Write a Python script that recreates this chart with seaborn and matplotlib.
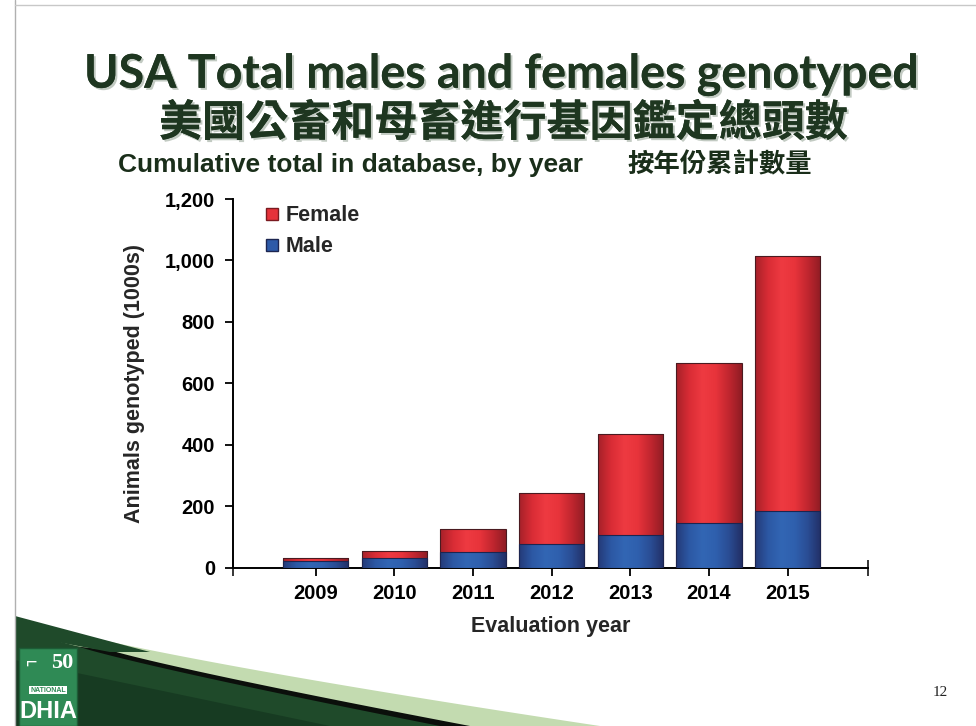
import numpy as np
import pandas as pd
import matplotlib
matplotlib.use("Agg")
import matplotlib.pyplot as plt
import seaborn as sns
from matplotlib.colors import LinearSegmentedColormap
from matplotlib.patches import Rectangle, Polygon
from matplotlib.lines import Line2D
from matplotlib.ticker import FuncFormatter
import matplotlib.patheffects as pe

# data (thousands of animals, cumulative)
years = ['2009', '2010', '2011', '2012', '2013', '2014', '2015']
male = [21, 31, 51, 75, 105, 145, 183]
female = [10, 23, 76, 169, 330, 521, 832]
y_ticks = [0, 200, 400, 600, 800, 1000, 1200]

sns.set_style("white")
plt.rcParams['font.family'] = ['Liberation Sans', 'Noto Sans CJK TC', 'DejaVu Sans']

df = pd.DataFrame({'year': years, 'male': male, 'female': female})
df['total'] = df['male'] + df['female']

W, H = 976, 726
fig = plt.figure(figsize=(W / 100, H / 100), dpi=100)

def fx(x):
    return x / W

def fy(y):
    return 1 - y / H

ax = fig.add_axes([fx(233), fy(567.5), fx(868 - 233), (567.5 - 199) / H])

red = '#e5323a'
blue = '#2d5aa8'
sns.barplot(data=df, x='year', y='total', color=red, width=0.83, ax=ax,
            saturation=1, edgecolor='none')
sns.barplot(data=df, x='year', y='male', color=blue, width=0.83, ax=ax,
            saturation=1, edgecolor='none')

# cylinder-like shading on each bar
red_cmap = LinearSegmentedColormap.from_list('r', ['#a52129', '#d92c35', '#ee3a41', '#e8343b', '#c1262f', '#8f1c24'])
blue_cmap = LinearSegmentedColormap.from_list('b', ['#243a78', '#2c58a4', '#3266b4', '#2f60ae', '#2a4d94', '#222f66'])
grad = np.linspace(0, 1, 256).reshape(1, -1)
n = len(years)
for i, p in enumerate(list(ax.patches)):
    x0, y0, w, h = p.get_x(), p.get_y(), p.get_width(), p.get_height()
    cmap = red_cmap if i < n else blue_cmap
    im = ax.imshow(grad, extent=[x0, x0 + w, y0, y0 + h], cmap=cmap,
                   aspect='auto', zorder=2 + (i >= n), origin='lower')
    im.set_clip_path(p)
    ax.add_patch(Rectangle((x0, y0), w, h, fill=False, edgecolor='#4a1a20' if i < n else '#1c2550',
                           lw=0.8, zorder=2.5 + (i >= n)))

ax.set_xlim(-1.05, 7.02)
ax.set_ylim(0, 1200)
ax.set_yticks(y_ticks)
ax.yaxis.set_major_formatter(FuncFormatter(lambda v, pos: f'{int(v):,}'))
ax.set_xticks(range(n))
ax.set_xticklabels(years)
ax.set_xticks([-1.05, 7.02], minor=True)
ax.tick_params(axis='both', which='both', bottom=True, left=True)
ax.tick_params(axis='both', which='major', direction='out', length=6, width=1.3,
               colors='black', labelsize=14.5)
ax.tick_params(axis='x', which='minor', direction='inout', length=12, width=1.3)
for lbl in ax.get_xticklabels() + ax.get_yticklabels():
    lbl.set_fontweight('bold')
ax.tick_params(axis='x', pad=6)
ax.tick_params(axis='y', pad=7)

sns.despine(ax=ax)
for s in ['left', 'bottom']:
    ax.spines[s].set_linewidth(1.4)
    ax.spines[s].set_color('black')

ax.set_xlabel('Evaluation year', fontsize=15.5, fontweight='bold', labelpad=9)
ax.set_ylabel('Animals genotyped (1000s)', fontsize=15.5, fontweight='bold', labelpad=14)

handles = [Line2D([], [], marker='s', ls='none', markersize=9, markerfacecolor=red,
                  markeredgecolor='#7a1a20', label='Female'),
           Line2D([], [], marker='s', ls='none', markersize=9, markerfacecolor=blue,
                  markeredgecolor='#1c2550', label='Male')]
leg = ax.legend(handles=handles, loc='upper left', bbox_to_anchor=(0.011, 1.035), frameon=False,
                handletextpad=0.0, handlelength=1.2, labelspacing=0.45,
                prop={'weight': 'bold', 'size': 15.5})

# titles
shadow = [pe.withSimplePatchShadow(offset=(1.5, -1.5), shadow_rgbFace='#9aa89a', alpha=0.6), pe.Normal()]
fig.text(fx(501), fy(74), 'USA Total males and females genotyped', ha='center', va='center',
         fontsize=33.5, fontweight='bold', color='#1e3620', family=['Lato', 'DejaVu Sans'],
         path_effects=shadow)
fig.text(fx(503), fy(123), '美國公畜和母畜進行基因鑑定總頭數', ha='center', va='center',
         fontsize=31, fontweight='bold', color='#1e3620', family=['Noto Sans CJK TC'],
         path_effects=shadow)
fig.text(fx(118), fy(165), 'Cumulative total in database, by year', ha='left', va='center',
         fontsize=19, fontweight='bold', color='#1a2e1a')
fig.text(fx(627), fy(165), '按年份累計數量', ha='left', va='center',
         fontsize=19, fontweight='bold', color='#1a2e1a', family=['Noto Sans CJK TC'])

# slide frame lines
fig.add_artist(Line2D([fx(15), fx(15)], [fy(0), fy(726)], color='#b0b0b0', lw=1))
fig.add_artist(Line2D([fx(15), fx(976)], [fy(5), fy(5)], color='#c8c8c8', lw=1))

# bottom-left swoosh
def curve(x_start, y_start, x_end, bend):
    t = np.linspace(0, 1, 60)
    xs = x_start + t * (x_end - x_start)
    ys = y_start + (726 - y_start) * (t ** bend)
    return xs, ys

tx, ty = curve(15, 616, 600, 0.8)
lx, ly = curve(110, 650, 470, 0.9)
bx, by = curve(80, 647, 440, 0.9)
fig.add_artist(Polygon([(fx(a), fy(b)) for a, b in zip(tx, ty)] + [(fx(15), fy(726))],
                       closed=True, facecolor='#c3dbb0', edgecolor='none', transform=fig.transFigure))
fig.add_artist(Polygon([(fx(a), fy(b)) for a, b in zip(lx, ly)] + [(fx(15), fy(726)), (fx(15), fy(640))],
                       closed=True, facecolor='#0b0f0b', edgecolor='none', transform=fig.transFigure))
fig.add_artist(Polygon([(fx(a), fy(b)) for a, b in zip(bx, by)] + [(fx(15), fy(726)), (fx(15), fy(630))],
                       closed=True, facecolor='#1f4a2a', edgecolor='none', transform=fig.transFigure))
fig.add_artist(Polygon([(fx(15), fy(616)), (fx(150), fy(652)), (fx(110), fy(652)), (fx(15), fy(634))],
                       closed=True, facecolor='#1f4a2a', edgecolor='none', transform=fig.transFigure))
fig.add_artist(Polygon([(fx(15), fy(660)), (fx(15), fy(726)), (fx(330), fy(726))], closed=True,
                       facecolor='#173b22', edgecolor='none', transform=fig.transFigure))

# logo
fig.add_artist(Rectangle((fx(19), fy(726)), fx(58), 78 / H, facecolor='#2f8a55',
                         edgecolor='#1d5c36', lw=1, transform=fig.transFigure))
fig.text(fx(62), fy(663), '50', ha='center', va='center', fontsize=16, fontweight='bold',
         color='white', family=['Liberation Serif'])
fig.text(fx(32), fy(663), '⌐', ha='center', va='center', fontsize=14, color='white')
fig.text(fx(48), fy(690), 'NATIONAL', ha='center', va='center', fontsize=5, fontweight='bold',
         color='#2f8a55', bbox=dict(facecolor='white', edgecolor='none', pad=0.6))
fig.text(fx(48), fy(711), 'DHIA', ha='center', va='center', fontsize=17, fontweight='bold',
         color='white', family=['Liberation Sans Narrow', 'Liberation Sans'])

fig.text(fx(940), fy(693), '12', ha='center', va='center', fontsize=11,
         family=['Liberation Serif'], color='#222222')

fig.savefig('out.png', dpi=100)
